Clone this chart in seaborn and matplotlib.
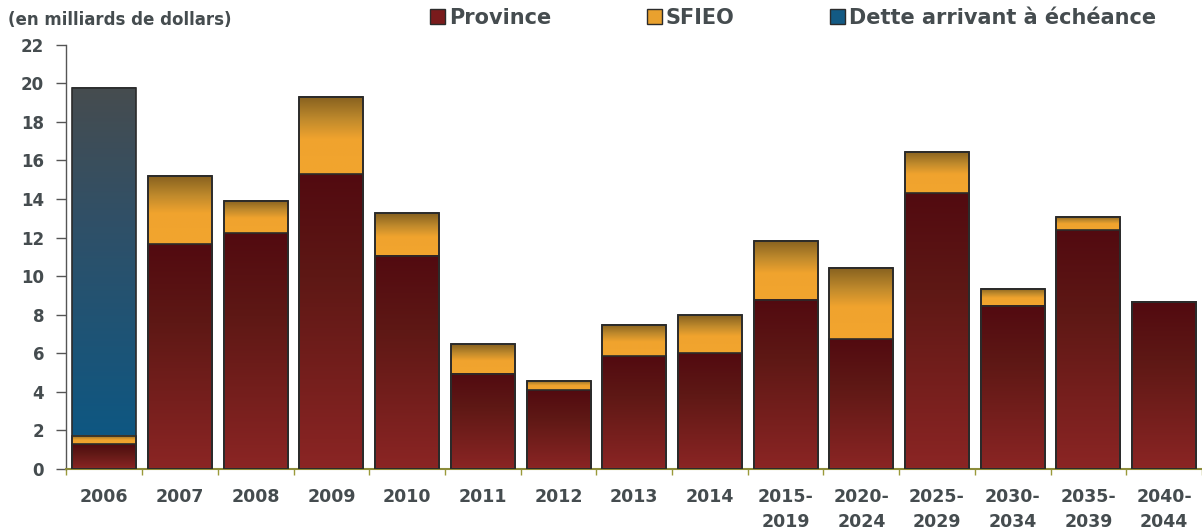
import numpy as np
import pandas as pd
import matplotlib.pyplot as plt
import seaborn as sns
from matplotlib.colors import LinearSegmentedColormap
from matplotlib.patches import Patch

# Échéancier de la dette (en milliards de dollars)

periods = ["2006", "2007", "2008", "2009", "2010", "2011", "2012", "2013", "2014",
           "2015-\n2019", "2020-\n2024", "2025-\n2029", "2030-\n2034", "2035-\n2039",
           "2040-\n2044"]
province = [1.28, 11.65, 12.24, 15.28, 11.05, 4.93, 4.09, 5.84, 6.01,
            8.77, 6.74, 14.30, 8.46, 12.38, 8.66]
sfieo = [0.45, 3.53, 1.68, 4.02, 2.21, 1.55, 0.48, 1.61, 1.97,
         3.08, 3.71, 2.13, 0.89, 0.69, 0.0]
dette = [18.05, 0, 0, 0, 0, 0, 0, 0, 0, 0, 0, 0, 0, 0, 0]

df = pd.DataFrame({"periode": periods, "province": province,
                   "sfieo": sfieo, "dette": dette})
df["p_s"] = df["province"] + df["sfieo"]
df["total"] = df["p_s"] + df["dette"]

txt_color = "#454C4F"
edge = "#2b2b2b"

cmap_prov = LinearSegmentedColormap.from_list(
    "prov", [(0, "#520A10"), (0.35, "#5E1815"), (1, "#8B2524")])
cmap_sfieo = LinearSegmentedColormap.from_list(
    "sfieo", [(0, "#85601F"), (0.3, "#C08A2C"), (0.55, "#F0A32E"), (1, "#F2A52E")])
cmap_dette = LinearSegmentedColormap.from_list(
    "dette", [(0, "#464C4F"), (0.4, "#2F5068"), (1, "#0E5782")])

sns.set_style("white")
plt.rcParams["font.family"] = ["DejaVu Sans"]
plt.rcParams["font.weight"] = "bold"

fig = plt.figure(figsize=(12.02, 5.31), dpi=100, facecolor="white")
ax = fig.add_axes([0.0553, 0.1168, 0.9447, 0.7988])

# stacked bars drawn as overlapping cumulative bars
layers = [("total", "p_s", cmap_dette), ("p_s", "province", cmap_sfieo),
          ("province", None, cmap_prov)]
for col, _, _ in layers:
    sns.barplot(data=df, x="periode", y=col, ax=ax, width=0.845, color="white",
                edgecolor=edge, linewidth=1.2, saturation=1, errorbar=None)

n = len(df)
grad = np.linspace(0, 1, 256).reshape(-1, 1)
for k, (col, below, cmap) in enumerate(layers):
    for i, patch in enumerate(ax.patches[k * n:(k + 1) * n]):
        patch.set_facecolor("none")
        patch.set_zorder(3)
        top = df[col].iloc[i]
        bottom = df[below].iloc[i] if below else 0
        if top - bottom > 1e-6:
            x0 = patch.get_x()
            ax.imshow(grad, cmap=cmap, extent=(x0, x0 + patch.get_width(), bottom, top),
                      aspect="auto", origin="upper", zorder=2)

ax.set_xlim(-0.5, n - 0.5)
ax.set_ylim(0, 22)
ax.set_xlabel("")
ax.set_ylabel("")

ax.set_yticks(range(0, 23, 2))
ax.tick_params(axis="y", direction="out", length=7, width=1, color="#555555",
               pad=9, labelsize=12, labelcolor=txt_color, left=True)
ax.set_xticks(range(n))
ax.set_xticks(np.arange(-0.5, n, 1), minor=True)
ax.tick_params(axis="x", which="major", length=0, pad=14, labelsize=12.5,
               labelcolor=txt_color)
ax.tick_params(axis="x", which="minor", direction="out", length=4, width=1,
               color="#9A9A3A", bottom=True)
for label in ax.get_xticklabels():
    label.set_linespacing(1.45)

for s in ["top", "right"]:
    ax.spines[s].set_visible(False)
ax.spines["left"].set_color("#555555")
ax.spines["left"].set_linewidth(1)
ax.spines["bottom"].set_color("#8C8C3A")
ax.spines["bottom"].set_linewidth(1.5)

fig.text(0.007, 0.962, "(en milliards de dollars)", fontsize=12, color=txt_color,
         fontweight="bold", ha="left", va="center")

handles = [Patch(facecolor="#7A1B1C", edgecolor=edge, label="Province"),
           Patch(facecolor="#E9A12E", edgecolor=edge, label="SFIEO"),
           Patch(facecolor="#135A84", edgecolor=edge, label="Dette arrivant à échéance")]
leg = fig.legend(handles=handles, loc="upper left", bbox_to_anchor=(0.358, 0.985),
                 ncol=3, frameon=False, fontsize=15, handlelength=0.7,
                 handleheight=0.7, handletextpad=0.2, columnspacing=4.6,
                 borderpad=0, borderaxespad=0)
for t in leg.get_texts():
    t.set_color(txt_color)

fig.savefig("out.png", dpi=100, facecolor="white")
